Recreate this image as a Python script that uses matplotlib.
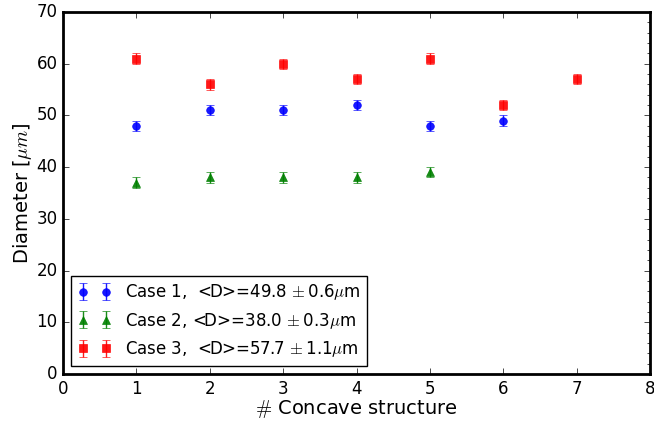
import matplotlib
matplotlib.use("Agg")
import matplotlib.pyplot as plt
from matplotlib.ticker import MultipleLocator

plt.style.use('classic')

x1 = [1, 2, 3, 4, 5, 6]
d1 = [48, 51, 51, 52, 48, 49]
e1 = [1, 1, 1, 1, 1, 1]

x2 = [1, 2, 3, 4, 5]
d2 = [37, 38, 38, 38, 39]
e2 = [1, 1, 1, 1, 1]

x3 = [1, 2, 3, 4, 5, 6, 7]
d3 = [61, 56, 60, 57, 61, 52, 57]
e3 = [1, 1, 1, 1, 1, 1, 1]

labels = [r"Case 1,  <D>=49.8$\,\pm$0.6$\mu$m",
          r"Case 2, <D>=38.0$\,\pm$0.3$\mu$m",
          r"Case 3,  <D>=57.7$\,\pm$1.1$\mu$m"]

fig = plt.figure(figsize=(6.54, 4.24), dpi=100, facecolor='white')
ax = fig.add_axes([63/654, 1 - 374/424, (650-63)/654, (374-12)/424])

specs = [(x1, d1, e1, 'o', 'b'), (x2, d2, e2, '^', 'g'), (x3, d3, e3, 's', 'r')]
for (x, d, e, m, c), lab in zip(specs, labels):
    ax.errorbar(x, d, yerr=e, fmt=m, color=c, mec=c, ms=5.5, ecolor=c,
                elinewidth=1, capsize=3, label=lab, alpha=0.9)

ax.set_xlim(0, 8)
ax.set_ylim(0, 70)
ax.xaxis.set_major_locator(MultipleLocator(1))
ax.yaxis.set_major_locator(MultipleLocator(10))
for s in ax.spines.values():
    s.set_linewidth(2)
ax.tick_params(labelsize=12)
ax.set_xlabel(r"$\#$ Concave structure", fontsize=14, labelpad=0)
ax.set_ylabel(r"Diameter [$\mu m$]", fontsize=14, labelpad=1.5)

# minor ticks on right side only
ax2 = ax.twinx()
ax2.set_ylim(0, 70)
ax2.yaxis.set_major_locator(MultipleLocator(10))
ax2.yaxis.set_minor_locator(MultipleLocator(2))
ax2.tick_params(labelright=False)
for s in ax2.spines.values():
    s.set_visible(False)

leg = ax.legend(loc='lower left', numpoints=2, fontsize=12, frameon=True,
                borderaxespad=0.5)
leg.get_frame().set_edgecolor('black')

fig.savefig("out.png", dpi=100, facecolor='white')
